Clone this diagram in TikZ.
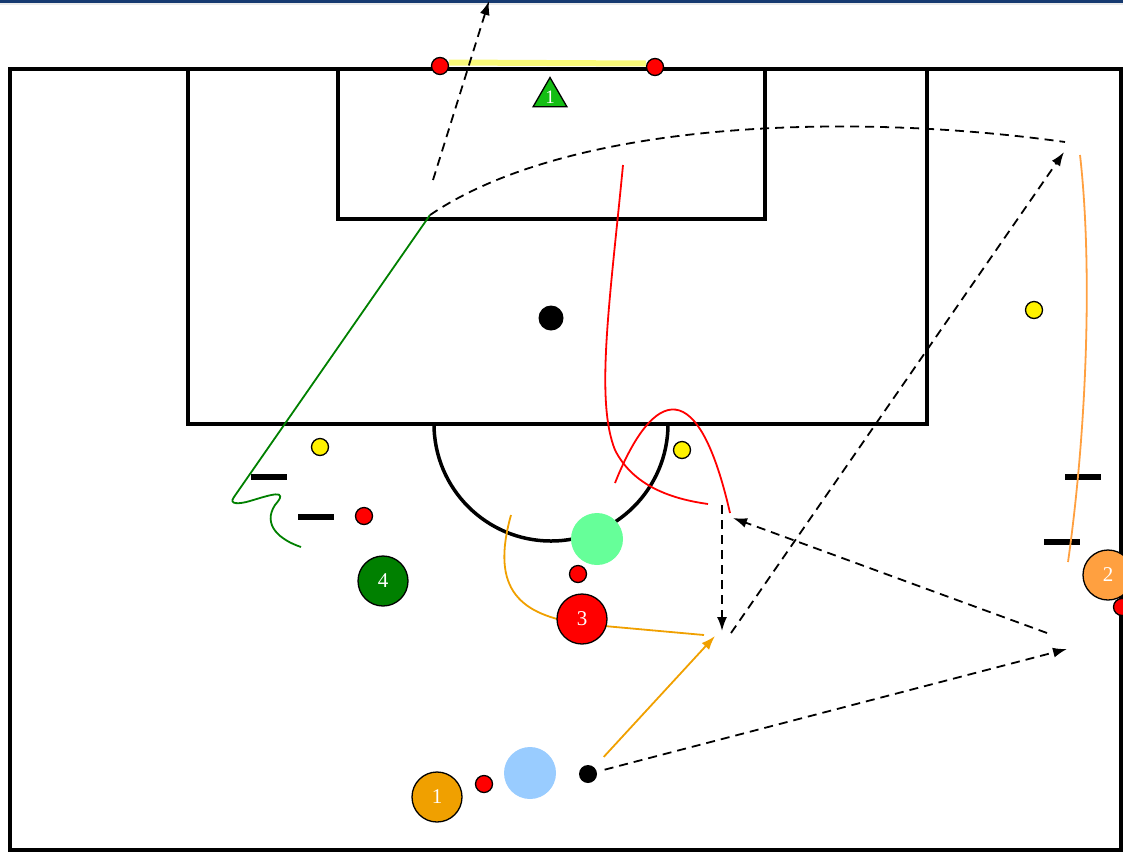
\documentclass[tikz,border=0pt]{standalone}
\usepackage{fontspec}
\setmainfont{Liberation Serif}
\usepackage{tikz}
\usetikzlibrary{arrows,arrows.meta,positioning,shapes.geometric}
\usepackage{xcolor}
\definecolor{topbar}{RGB}{22,58,112}
\definecolor{goalyel}{RGB}{250,250,120}
\definecolor{keepgreen}{RGB}{20,190,20}
\definecolor{orangeA}{RGB}{240,160,0}
\definecolor{orangeB}{RGB}{255,160,64}
\definecolor{darkgreen}{RGB}{0,128,0}
\definecolor{mint}{RGB}{102,255,153}
\definecolor{skyblue}{RGB}{153,204,255}

\begin{document}
\begin{tikzpicture}[x=1pt,y=-1pt,>={Latex[length=14pt,width=10pt]},
  field/.style={line width=3.5pt},
  player/.style={circle,draw=black,line width=1.3pt,minimum size=50pt,inner sep=0pt,text=white,font=\fontsize{21}{21}\selectfont},
  ghost/.style={circle,minimum size=52pt,inner sep=0pt},
  cone/.style={circle,draw=black,line width=1.3pt,minimum size=17pt,inner sep=0pt},
  pole/.style={fill=black,minimum width=36pt,minimum height=5.5pt,inner sep=0pt},
  pass/.style={->,line width=1.8pt,dash pattern=on 9pt off 6pt},
  run/.style={line width=1.8pt}]
\useasboundingbox (0,0) rectangle (1123,852);
\fill[topbar] (0,0) rectangle (1123,3);
\fill[black!8] (0,3) rectangle (1123,5);

% pitch
\draw[field] (10,69) rectangle (1121,850);
\draw[field] (188,69) rectangle (927,424);
\draw[field] (338,69) rectangle (765,219);
\draw[field] (434,424) arc[start angle=180,end angle=0,radius=117];
\node[circle,fill=black,minimum size=25pt,inner sep=0pt] (spot) at (551,318) {};

% goal
\node[cone,fill=red] (postL) at (440,66) {};
\node[cone,fill=red] (postR) at (655,67) {};
\draw[goalyel,line width=6pt] ([yshift=3.5pt]postL.east) -- ([yshift=3.5pt]postR.west);
\node[regular polygon,regular polygon sides=3,draw=black,line width=1.3pt,fill=keepgreen,minimum size=39pt,inner sep=0pt,text=white,font=\fontsize{19}{19}\selectfont] (keeper) at (550,97) {1};

% poles and cones
\node[pole] (poleA) at (269,477) {};
\node[pole] (poleB) at (316,517) {};
\node[pole] (poleC) at (1083,477) {};
\node[pole] (poleD) at (1062,542) {};
\node[cone,fill=yellow] (coneA) at (320,447) {};
\node[cone,fill=yellow] (coneB) at (682,450) {};
\node[cone,fill=yellow] (coneC) at (1034,310) {};
\node[cone,fill=red] (dotA) at (364,516) {};
\node[cone,fill=red] (dotB) at (578,574) {};
\node[cone,fill=red] (dotC) at (1122,607) {};
\node[cone,fill=red] (dotD) at (484,784) {};

% end points of the runs
\coordinate (shotA) at (433,180);
\coordinate (shotB) at (489,1);
\coordinate (crossA) at (430,215);
\coordinate (crossB) at (1065,142);
\coordinate (wideA) at (1080,155);
\coordinate (wideB) at (1068,562);
\coordinate (dropA) at (722,505);
\coordinate (dropB) at (722,631);
\coordinate (layA) at (731,633);
\coordinate (layB) at (1064,152);
\coordinate (backA) at (1047,633);
\coordinate (backB) at (733,518);
\coordinate (passB) at (1067,649);
\coordinate (meet) at (715,636);
\coordinate (endA) at (704,635);
\coordinate (startC) at (511,515);
\coordinate (redA) at (623,165);
\coordinate (redB) at (708,504);
\coordinate (redC) at (615,483);
\coordinate (redD) at (730,513);
\coordinate (greenB) at (301,547);

% runs
\draw[run,darkgreen] (crossA) -- (234,497) .. controls (228,505) and (240,504) .. (250,501)
  .. controls (270,495) and (290,488) .. (275,505) .. controls (262,525) and (280,540) .. (greenB);
\draw[run,red] (redA) .. controls (610,300) and (595,400) .. (615,450) .. controls (635,490) and (680,500) .. (redB);
\draw[run,red] (redC) .. controls (648,400) and (695,360) .. (redD);
\draw[run,orangeA] (startC) .. controls (490,590) and (520,615) .. (582,624) -- (endA);
\draw[run,orangeB] (wideA) .. controls (1092,260) and (1088,420) .. (wideB);

% passes
\draw[pass] (shotA) -- (shotB);
\draw[line width=1.8pt,dash pattern=on 9pt off 6pt] (crossA) .. controls (570,120) and (850,112) .. (crossB);
\draw[pass] (dropA) -- (dropB);
\draw[pass] (layA) -- (layB);
\draw[pass] (backA) -- (backB);

% players
\node[ghost,fill=mint] (mate) at (597,539) {};
\node[player,fill=red] (p3) at (582,619) {3};
\node[player,fill=darkgreen] (p4) at (383,581) {4};
\node[player,fill=orangeB] (p2) at (1108,575) {2};
\node[player,fill=orangeA] (p1) at (437,797) {1};
\node[ghost,fill=skyblue] (mark) at (530,773) {};
\node[circle,fill=black,minimum size=18pt,inner sep=0pt] (ball) at (588,774) {};

\draw[pass,shorten <=8pt] (ball) -- (passB);
\draw[->,run,orangeA,shorten <=14pt] (ball) -- (meet);
\end{tikzpicture}
\end{document}
